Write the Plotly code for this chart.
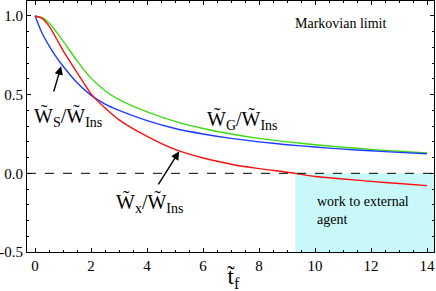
import plotly.graph_objects as go

# time values (t_f) and read-off ratios
t_f = [0, 0.25, 0.5, 0.75, 1, 1.5, 2, 2.5, 3, 4, 5, 6, 7, 8, 9, 10, 11, 12, 13, 14]
w_s = [1.0, 0.89, 0.81, 0.74, 0.68, 0.575, 0.495, 0.44, 0.40, 0.335, 0.285, 0.25, 0.222, 0.2, 0.182, 0.167, 0.154, 0.143, 0.133, 0.124]
w_g = [1.0, 0.99, 0.955, 0.90, 0.84, 0.715, 0.605, 0.525, 0.468, 0.39, 0.33, 0.285, 0.25, 0.222, 0.2, 0.182, 0.166, 0.152, 0.14, 0.13]
w_x = [1.0, 0.985, 0.935, 0.86, 0.78, 0.64, 0.505, 0.415, 0.34, 0.235, 0.152, 0.097, 0.058, 0.03, 0.007, -0.02, -0.036, -0.051, -0.065, -0.078]
t_cross = 9.3

x_ticks = [0, 2, 4, 6, 8, 10, 12, 14]
y_ticks = [-0.5, 0.0, 0.5, 1.0]
y_tick_labels = ["-0.5", "0.0", "0.5", "1.0"]

X_RANGE = [-0.29, 14.25]
Y_RANGE = [-0.5, 1.095]
SERIF = "Liberation Serif"

fig = go.Figure()
line_style = dict(width=1.4, shape="spline", smoothing=0.7)
fig.add_trace(go.Scatter(x=t_f, y=w_g, mode="lines", line=dict(color="#3cdc14", **line_style)))
fig.add_trace(go.Scatter(x=t_f, y=w_s, mode="lines", line=dict(color="#1e3cff", **line_style)))
fig.add_trace(go.Scatter(x=t_f, y=w_x, mode="lines", line=dict(color="#ff1010", **line_style)))

fig.add_shape(type="rect", xref="x", yref="y", x0=t_cross, x1=X_RANGE[1], y0=Y_RANGE[0], y1=0,
              fillcolor="rgb(200,248,248)", line=dict(width=0), layer="below")
fig.add_shape(type="line", xref="paper", yref="y", x0=0, x1=1, y0=0, y1=0,
              line=dict(color="black", width=1, dash="dash"))

ann_font = dict(family=SERIF, size=20, color="black")
fig.add_annotation(x=7.4, y=0.34, xref="x", yref="y", showarrow=False,
                   text="W\u0303<sub>G</sub>/W\u0303<sub>Ins</sub>", font=ann_font)
fig.add_annotation(x=1.18, y=0.355, xref="x", yref="y", showarrow=False,
                   text="W\u0303<sub>S</sub>/W\u0303<sub>Ins</sub>", font=ann_font)
fig.add_annotation(x=4.1, y=-0.19, xref="x", yref="y", showarrow=False,
                   text="W\u0303<sub>x</sub>/W\u0303<sub>Ins</sub>", font=ann_font)
# arrows
fig.add_annotation(x=0.93, y=0.68, ax=0.65, ay=0.51, xref="x", yref="y", axref="x", ayref="y",
                   showarrow=True, arrowhead=2, arrowsize=1.2, arrowwidth=1.4, arrowcolor="black", text="")
fig.add_annotation(x=5.15, y=0.14, ax=4.37, ay=-0.08, xref="x", yref="y", axref="x", ayref="y",
                   showarrow=True, arrowhead=2, arrowsize=1.2, arrowwidth=1.4, arrowcolor="black", text="")

fig.add_annotation(x=9.2, y=0.955, xref="x", yref="y", showarrow=False, xanchor="left",
                   text="Markovian limit", font=dict(family=SERIF, size=14, color="black"))
fig.add_annotation(x=10.0, y=-0.235, xref="x", yref="y", showarrow=False, xanchor="left", align="left",
                   text="work to external<br>agent", font=dict(family=SERIF, size=14, color="black"))
fig.add_annotation(x=7.1, y=-0.105, xref="x", yref="paper", showarrow=False, yanchor="middle",
                   text="t\u0303<sub>f</sub>", font=dict(family=SERIF, size=23, color="black"))

axis_common = dict(showgrid=False, zeroline=False, showline=True, linecolor="black", linewidth=1,
                   mirror="allticks", ticks="inside", ticklen=4, tickcolor="black", automargin=False,
                   tickfont=dict(family=SERIF, size=15, color="black"))
fig.update_xaxes(range=X_RANGE, tickvals=x_ticks, ticktext=[str(v) for v in x_ticks],
                 minor=dict(dtick=0.5, tick0=0, ticks="inside", ticklen=2, tickcolor="black"),
                 **axis_common)
fig.update_yaxes(range=Y_RANGE, tickvals=y_ticks, ticktext=y_tick_labels,
                 minor=dict(dtick=0.1, tick0=0, ticks="inside", ticklen=2, tickcolor="black"),
                 **axis_common)

fig.update_layout(width=436, height=291, margin=dict(l=27, r=2, t=1, b=39),
                  plot_bgcolor="white", paper_bgcolor="white", showlegend=False)
fig.write_html("out.html", config={"displayModeBar": False},
               post_script="document.body.style.margin='0px';document.body.style.padding='0px';")
